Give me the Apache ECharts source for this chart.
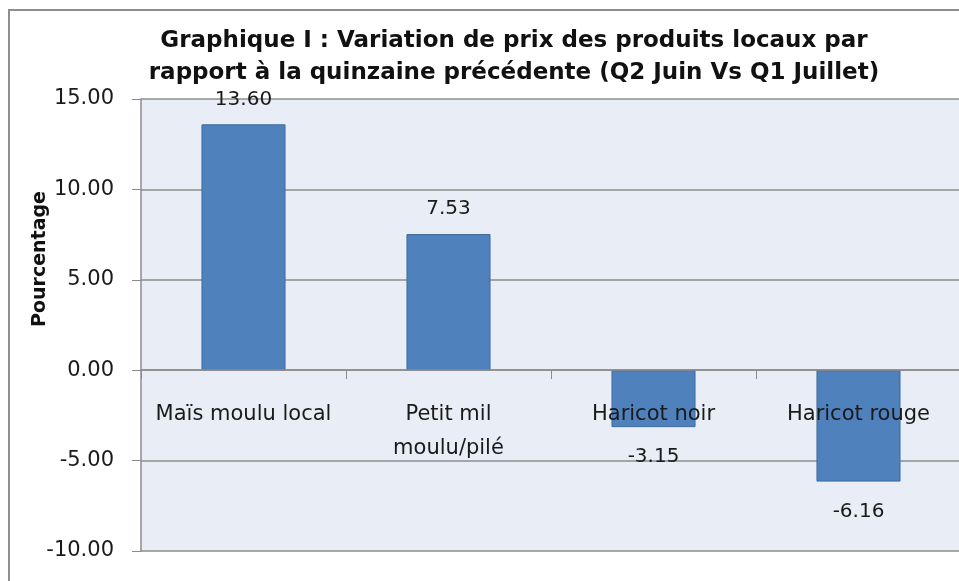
<!DOCTYPE html>
<html>
<head>
<meta charset="utf-8">
<script src="https://cdn.jsdelivr.net/npm/echarts@6/dist/echarts.min.js"></script>
<style>
html,body{margin:0;padding:0;background:#fff;}
#chart{width:959px;height:581px;}
</style>
</head>
<body>
<div id="chart"></div>
<script>
var categories = ['Maïs moulu local', 'Petit mil\nmoulu/pilé', 'Haricot noir', 'Haricot rouge'];
var values = [13.60, 7.53, -3.15, -6.16];
var yTicks = { min: -10, max: 15, interval: 5 };
var titleText = 'Graphique I : Variation de prix des produits locaux par\nrapport à la quinzaine précédente (Q2 Juin Vs Q1 Juillet)';
var yName = 'Pourcentage';

var FONT = '"DejaVu Sans"';
var chart = echarts.init(document.getElementById('chart'));
chart.setOption({
  backgroundColor: '#ffffff',
  animation: false,
  title: {
    text: titleText,
    left: 509,
    textAlign: 'center',
    top: 20,
    textStyle: { fontFamily: FONT, fontSize: 23, fontWeight: 'bold', color: '#111', lineHeight: 32 }
  },
  graphic: [
    { type: 'rect', z: 100, shape: { x: 9, y: 10, width: 1000, height: 1000 },
      style: { fill: 'none', stroke: '#8e8e8e', lineWidth: 2 } },
    { type: 'text', x: 40, y: 259, rotation: Math.PI / 2, z: 100,
      style: { text: yName, fontFamily: FONT, fontSize: 19, fontWeight: 'bold', fill: '#111',
               textAlign: 'center', textVerticalAlign: 'middle' } }
  ],
  grid: {
    left: 141, top: 99, right: -2, bottom: 30,
    outerBoundsMode: 'none', containLabel: false,
    show: true, backgroundColor: '#e9edf5', borderWidth: 0
  },
  xAxis: {
    type: 'category',
    data: categories,
    z: 5,
    offset: -181,
    axisLine: { onZero: false, lineStyle: { color: '#8c8c8c', width: 1.5 } },
    axisTick: { show: true, interval: 0, length: 9, lineStyle: { color: '#8c8c8c' } },
    axisLabel: { interval: 0, margin: 28, fontFamily: FONT, fontSize: 21, color: '#1a1a1a', lineHeight: 34 },
    splitLine: { show: false }
  },
  yAxis: {
    type: 'value',
    min: yTicks.min, max: yTicks.max, interval: yTicks.interval,
    axisLine: { show: true, lineStyle: { color: '#8c8c8c', width: 1.5 } },
    axisTick: { show: true, length: 9, lineStyle: { color: '#8c8c8c' } },
    axisLabel: { margin: 27, fontFamily: FONT, fontSize: 21, color: '#1a1a1a',
                 formatter: function (v) { return v.toFixed(2); } },
    splitLine: { show: true, lineStyle: { color: '#8c8c8c', width: 1.5 } }
  },
  series: [{
    type: 'bar',
    barWidth: '41%',
    data: values.map(function (v) {
      return {
        value: v,
        label: { position: v >= 0 ? 'top' : 'bottom', distance: v >= 0 ? 15 : 20 }
      };
    }),
    itemStyle: { color: '#4f81bd', borderColor: '#3d6a9e', borderWidth: 1 },
    label: {
      show: true, fontFamily: FONT, fontSize: 20, color: '#1a1a1a',
      formatter: function (p) { return p.value.toFixed(2); }
    }
  }]
});
</script>
</body>
</html>
